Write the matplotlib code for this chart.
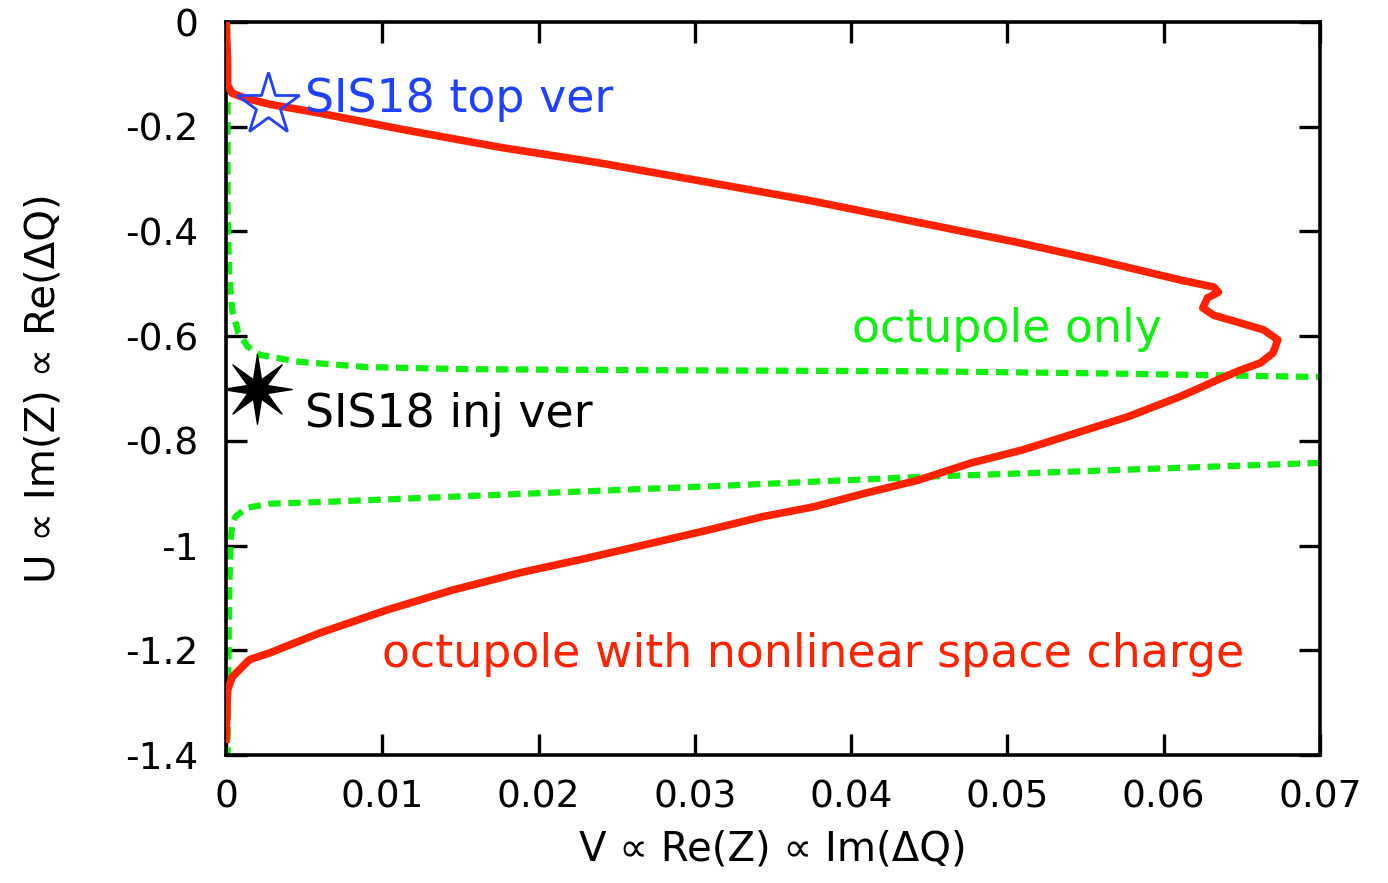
import numpy as np
import matplotlib.pyplot as plt
from matplotlib.path import Path

plt.rcParams['font.family'] = ['DejaVu Sans']
plt.rcParams['axes.unicode_minus'] = False

# octupole with nonlinear space charge (red)
red_x = [0.0, 0.0001, 0.0001, 0.0004, 0.0012, 0.0028, 0.0060, 0.0111, 0.0175, 0.0239,
         0.0372, 0.0505, 0.0558, 0.0611, 0.0632, 0.0635, 0.0628, 0.0625, 0.0632, 0.0647,
         0.0664, 0.0673, 0.0670, 0.0662, 0.0649, 0.0634, 0.0623, 0.0610, 0.0577, 0.0544,
         0.0510, 0.0477, 0.0443, 0.0409, 0.0376, 0.0343, 0.0309, 0.0273, 0.0231, 0.0188,
         0.0145, 0.0103, 0.0060, 0.0028, 0.0015, 0.0004, 0.0001, 0.0]
red_y = [0.0, -0.07, -0.12, -0.136, -0.145, -0.157, -0.174, -0.204, -0.239, -0.269,
         -0.340, -0.420, -0.455, -0.493, -0.506, -0.516, -0.527, -0.546, -0.560, -0.573,
         -0.588, -0.607, -0.632, -0.651, -0.665, -0.684, -0.699, -0.716, -0.754, -0.785,
         -0.817, -0.842, -0.875, -0.900, -0.926, -0.945, -0.970, -0.995, -1.024, -1.052,
         -1.085, -1.123, -1.167, -1.205, -1.218, -1.251, -1.276, -1.37]

# octupole only (green), two visible branches
green_up_x = [0.0001, 0.0001, 0.0002, 0.0004, 0.0008, 0.0014, 0.0022, 0.0047, 0.0090,
              0.0154, 0.0271, 0.0443, 0.0559, 0.0700]
green_up_y = [0.0, -0.35, -0.48, -0.55, -0.595, -0.62, -0.636, -0.649, -0.659,
              -0.663, -0.665, -0.667, -0.671, -0.678]
green_lo_x = [0.0700, 0.0443, 0.0316, 0.0175, 0.0068, 0.0028, 0.0013, 0.0006, 0.0004,
              0.0003, 0.0002, 0.0001]
green_lo_y = [-0.842, -0.869, -0.886, -0.903, -0.916, -0.920, -0.928, -0.945, -0.96,
              -0.99, -1.1, -1.4]

top_ver = (0.0027, -0.159)
inj_ver = (0.0020, -0.701)

xticks = [0, 0.01, 0.02, 0.03, 0.04, 0.05, 0.06, 0.07]
xtick_labels = ['0', '0.01', '0.02', '0.03', '0.04', '0.05', '0.06', '0.07']
yticks = [0, -0.2, -0.4, -0.6, -0.8, -1.0, -1.2, -1.4]
ytick_labels = ['0', '-0.2', '-0.4', '-0.6', '-0.8', '-1', '-1.2', '-1.4']

RED = '#ff2200'
GREEN = '#11ee11'
BLUE = '#2040ff'

# thin-armed 8 pointed star marker
ang = np.pi / 2 + np.arange(16) * np.pi / 8
rad = np.where(np.arange(16) % 2 == 0, 1.0, 0.3)
verts = np.column_stack([rad * np.cos(ang), rad * np.sin(ang)])
verts = np.vstack([verts, verts[:1]])
star8 = Path(verts, closed=True)

fig = plt.figure(figsize=(13.88, 8.83), dpi=100)
ax = fig.add_axes([0.1628, 0.145, 0.7882, 0.830])

ax.plot(green_up_x, green_up_y, color=GREEN, lw=4.5, dashes=(2.0, 1.2), zorder=2)
ax.plot(green_lo_x, green_lo_y, color=GREEN, lw=4.5, dashes=(2.0, 1.2), zorder=2)
ax.plot(red_x, red_y, color=RED, lw=5.5, solid_joinstyle='round', zorder=3)

ax.plot(*top_ver, marker='*', ms=47, mfc='none', mec=BLUE, mew=2, zorder=4)
ax.plot(*inj_ver, marker=star8, ms=50, color='black', zorder=4)

ax.text(0.00505, -0.172, 'SIS18 top ver', color=BLUE, fontsize=33, va='baseline')
ax.text(0.00505, -0.773, 'SIS18 inj ver', color='black', fontsize=33, va='baseline')
ax.text(0.04005, -0.611, 'octupole only', color=GREEN, fontsize=33, va='baseline')
ax.text(0.00998, -1.232, 'octupole with nonlinear space charge', color=RED,
        fontsize=33, va='baseline')

ax.set_xlim(0, 0.07)
ax.set_ylim(-1.4, 0)
ax.set_xticks(xticks)
ax.set_xticklabels(xtick_labels)
ax.set_yticks(yticks)
ax.set_yticklabels(ytick_labels)
ax.tick_params(direction='in', length=15, width=2.4, labelsize=27,
               top=True, right=True)
ax.tick_params(axis='x', pad=18)
ax.tick_params(axis='y', pad=20)
for s in ax.spines.values():
    s.set_linewidth(2.6)

ax.set_xlabel('V \u221d Re(Z) \u221d Im(\u0394Q)', fontsize=29, labelpad=10)
ax.set_ylabel('U \u221d Im(Z) \u221d Re(\u0394Q)', fontsize=29, labelpad=44)

fig.savefig('out.png', dpi=100)
